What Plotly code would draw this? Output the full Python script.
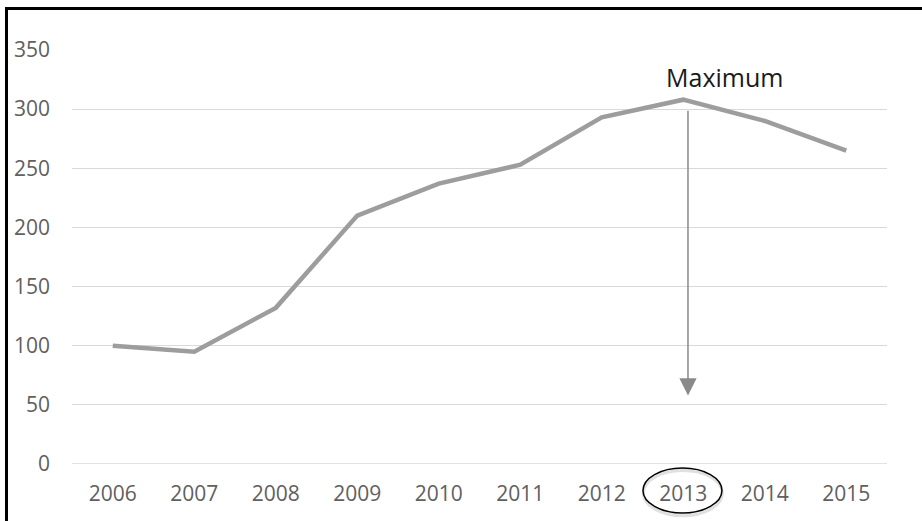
import plotly.graph_objects as go

years = ["2006", "2007", "2008", "2009", "2010", "2011", "2012", "2013", "2014", "2015"]
values = [100, 95, 132, 210, 237, 253, 293, 308, 290, 265]
y_ticks = [0, 50, 100, 150, 200, 250, 300, 350]
max_label = "Maximum"

fig = go.Figure()
fig.add_trace(go.Scatter(
    x=list(range(len(years))), y=values, mode="lines",
    line=dict(color="#9d9d9d", width=4.5), hoverinfo="skip",
))

font_family = "Open Sans"
imax = values.index(max(values))

fig.update_layout(
    width=922, height=521,
    margin=dict(l=72, r=35, t=50, b=57),
    paper_bgcolor="white", plot_bgcolor="white",
    showlegend=False,
    xaxis=dict(
        range=[-0.5, len(years) - 0.5],
        tickmode="array", tickvals=list(range(len(years))), ticktext=years,
        showgrid=False, zeroline=False, showline=False, ticks="",
        tickfont=dict(family=font_family, size=21, color="#606060"),
        ticklabelstandoff=15,
    ),
    yaxis=dict(
        range=[0, 350], tickmode="array", tickvals=y_ticks,
        showgrid=True, gridcolor="#d9d9d9", gridwidth=1,
        zeroline=False, showline=False, ticks="",
        tickfont=dict(family=font_family, size=21, color="#606060"),
        ticklabelstandoff=21,
    ),
)
# zero gridline (range starts at 0, draw explicitly)
fig.add_shape(type="line", xref="paper", yref="y", x0=0, x1=1, y0=0, y1=0,
              line=dict(color="#d9d9d9", width=1.5), layer="below")

# arrow from maximum down
fig.add_annotation(
    x=imax + 0.058, y=58, ax=imax + 0.058, ay=300,
    xref="x", yref="y", axref="x", ayref="y",
    text="", showarrow=True, arrowhead=2, arrowsize=2.3, arrowwidth=1.5,
    arrowcolor="#8a8a8a",
)
fig.add_annotation(
    x=imax + 0.51, y=327, xref="x", yref="y", text=max_label, showarrow=False,
    font=dict(family=font_family, size=25, color="#1a1a1a"),
)

# ellipse around 2013 label (with faint shadow)
fig.add_shape(type="circle", xref="x", yref="paper",
              x0=imax - 0.49, x1=imax + 0.48, y0=-0.125, y1=-0.016,
              line=dict(color="rgba(0,0,0,0.12)", width=3))
fig.add_shape(type="circle", xref="x", yref="paper",
              x0=imax - 0.494, x1=imax + 0.475, y0=-0.1184, y1=-0.0097,
              line=dict(color="black", width=1.5))

# frame lines (top and left)
fig.add_shape(type="line", xref="paper", yref="paper",
              x0=(5 - 72) / 815, x1=(922 - 72) / 815,
              y0=(464 - 8.5) / 414, y1=(464 - 8.5) / 414,
              line=dict(color="black", width=3))
fig.add_shape(type="line", xref="paper", yref="paper",
              x0=(6.5 - 72) / 815, x1=(6.5 - 72) / 815,
              y0=(464 - 7) / 414, y1=(464 - 521) / 414,
              line=dict(color="black", width=3))

fig.write_html("out.html")
